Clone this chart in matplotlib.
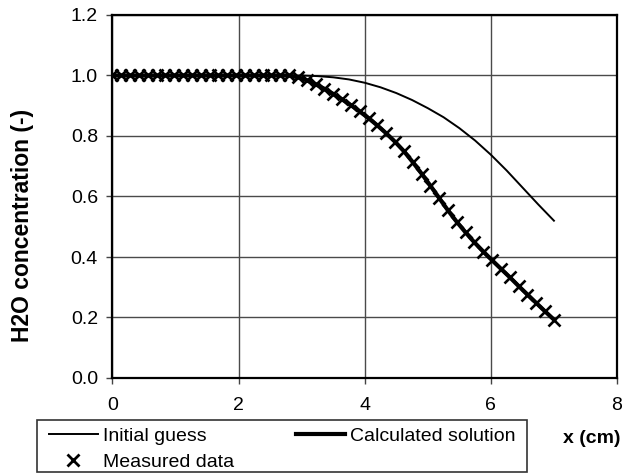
import matplotlib
matplotlib.use("Agg")
import matplotlib.pyplot as plt
from matplotlib.lines import Line2D
from matplotlib.patches import Rectangle

plt.rcParams["font.family"] = ["Liberation Sans", "DejaVu Sans"]

# Measured H2O profile along the sample (x in cm)
measured_x = [0.00, 0.14, 0.28, 0.42, 0.56, 0.70, 0.84, 0.98, 1.12, 1.26,
              1.40, 1.54, 1.68, 1.82, 1.96, 2.10, 2.24, 2.38, 2.52, 2.66,
              2.80, 2.94, 3.08, 3.22, 3.36, 3.50, 3.64, 3.78, 3.92, 4.06,
              4.20, 4.34, 4.48, 4.62, 4.76, 4.90, 5.04, 5.18, 5.32, 5.46,
              5.60, 5.74, 5.88, 6.02, 6.16, 6.30, 6.44, 6.58, 6.72, 6.86,
              7.00]
measured_conc = [1.000, 1.000, 1.000, 1.000, 1.000, 1.000, 1.000, 1.000, 1.000, 1.000,
                 1.000, 1.000, 1.000, 1.000, 1.000, 1.000, 1.000, 1.000, 1.000, 1.000,
                 1.000, 0.994, 0.984, 0.971, 0.956, 0.939, 0.921, 0.902, 0.881, 0.859,
                 0.835, 0.809, 0.781, 0.750, 0.714, 0.676, 0.636, 0.595, 0.554, 0.516,
                 0.481, 0.448, 0.418, 0.389, 0.361, 0.333, 0.304, 0.276, 0.248, 0.220,
                 0.193]

# Fitted model profile (coincides with the measurements)
calculated_x = list(measured_x)
calculated_conc = list(measured_conc)

# Starting profile used for the fit
initial_x = [0.0, 0.5, 1.0, 1.5, 2.0, 2.5, 3.0, 3.25, 3.5, 3.75, 4.0, 4.25,
             4.5, 4.75, 5.0, 5.25, 5.5, 5.75, 6.0, 6.25, 6.5, 6.75, 7.0]
initial_conc = [1.000, 1.000, 1.000, 1.000, 1.000, 1.000, 1.000, 0.998, 0.994,
                0.987, 0.976, 0.961, 0.942, 0.919, 0.892, 0.862, 0.826, 0.785,
                0.738, 0.686, 0.630, 0.574, 0.520]

x_ticks = [0, 2, 4, 6, 8]
y_ticks = [0.0, 0.2, 0.4, 0.6, 0.8, 1.0, 1.2]

W, H = 641, 473


def fx(px):
    return px / W


def fy(py):
    return 1 - py / H


fig = plt.figure(figsize=(W / 100, H / 100), dpi=100)
ax = fig.add_axes([fx(112.5), fy(378), (617 - 112.5) / W, (378 - 15) / H])

ax.plot(initial_x, initial_conc, color="black", lw=1.4, zorder=3)
ax.plot(calculated_x, calculated_conc, color="black", lw=3.0, zorder=4)
ax.plot(measured_x, measured_conc, ls="none", marker="x", ms=8.5,
        mew=1.9, color="black", zorder=5)

ax.set_xlim(0, 8)
ax.set_ylim(0, 1.2)
ax.set_xticks(x_ticks)
ax.set_xticklabels([str(t) for t in x_ticks])
ax.set_yticks(y_ticks)
ax.set_yticklabels([f"{t:.1f}" for t in y_ticks])
ax.grid(True, color="#4a4a4a", lw=1.0)
ax.set_axisbelow(True)
for sp in ax.spines.values():
    sp.set_linewidth(1.6)
    sp.set_color("black")
ax.tick_params(axis="both", direction="out", length=4, width=1.0,
               labelsize=14, color="#444444")
ax.tick_params(axis="x", pad=9.5)
ax.tick_params(axis="y", pad=6.5)

fig.text(fx(22.5), fy(225), "H2O concentration (-)", rotation=90,
         ha="center", va="center", fontsize=16.5, fontweight="bold")
fig.text(fx(592), fy(438), "x (cm)", ha="center", va="center",
         fontsize=14, fontweight="bold")

# Legend frame and entries
fig.patches.append(Rectangle((fx(37), fy(472)), (527 - 37) / W, (472 - 420) / H,
                             transform=fig.transFigure, fill=False,
                             edgecolor="#333333", lw=1.2))
handles = [
    Line2D([], [], color="black", lw=1.4),
    Line2D([], [], ls="none", marker="x", ms=8, mew=2.0, color="black"),
    Line2D([], [], color="black", lw=3.0),
]
labels = ["Initial guess", "Measured data", "Calculated solution"]
fig.legend(handles, labels, ncol=2, loc="upper left",
           bbox_to_anchor=(fx(49), fy(427)), frameon=False, fontsize=14,
           borderpad=0, borderaxespad=0, handlelength=2.5,
           handletextpad=0.26, columnspacing=3.2, labelspacing=0.45)

fig.savefig("out.png", dpi=100)
